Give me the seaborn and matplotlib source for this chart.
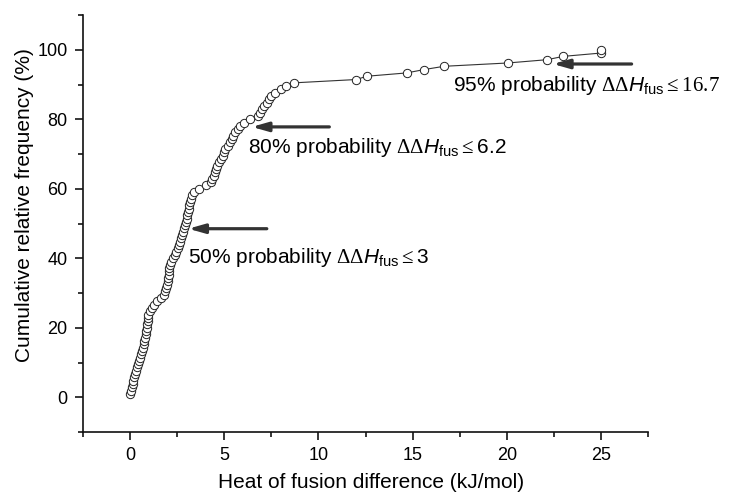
import numpy as np
import pandas as pd
import matplotlib
matplotlib.use('Agg')
import matplotlib.pyplot as plt
from matplotlib.ticker import MultipleLocator
import seaborn as sns

# heat of fusion differences (kJ/mol), sorted
dh_values = [
    0.00, 0.05, 0.09, 0.13, 0.17, 0.21, 0.25, 0.31, 0.37, 0.44,
    0.50, 0.55, 0.59, 0.64, 0.68, 0.72, 0.76, 0.79, 0.83, 0.86,
    0.88, 0.91, 0.93, 0.95, 0.97, 1.06, 1.14, 1.27, 1.41, 1.64,
    1.80, 1.86, 1.92, 1.96, 1.99, 2.01, 2.04, 2.06, 2.08, 2.11,
    2.16, 2.27, 2.38, 2.45, 2.52, 2.59, 2.64, 2.70, 2.76, 2.82,
    2.88, 2.93, 2.97, 3.00, 3.04, 3.07, 3.11, 3.15, 3.19, 3.23,
    3.30, 3.40, 3.65, 4.05, 4.30, 4.36, 4.43, 4.49, 4.55, 4.61,
    4.71, 4.82, 4.91, 4.98, 5.04, 5.18, 5.31, 5.40, 5.48, 5.57,
    5.71, 5.85, 6.05, 6.35, 6.80, 6.90, 6.99, 7.12, 7.26, 7.36,
    7.46, 7.67, 8.00, 8.30, 8.70, 12.00, 12.58, 14.69, 15.60, 16.67,
    20.05, 22.15, 23.00, 25.00, 25.00,
]

# annotation labels, arrow tips/tails (data units)
labels = [
    r'50% probability $\Delta\Delta \mathit{H}_{\mathsf{fus}} \leq \mathsf{3}$',
    r'80% probability $\Delta\Delta \mathit{H}_{\mathsf{fus}} \leq \mathsf{6.2}$',
    r'95% probability $\Delta\Delta \mathit{H}_{\mathsf{fus}} \leq 16.7$',
]
arrow_tip_x = [3.09, 6.46, 22.45]
arrow_tail_x = [7.26, 10.58, 26.63]
arrow_y = [48.5, 77.8, 95.9]
label_x = [3.09, 6.28, 17.14]
label_y = [38.7, 70.2, 88.2]

df = pd.DataFrame({'dh': dh_values})
df['cum'] = df['dh'].rank(method='first') / len(df) * 100

sns.set_style('ticks')
plt.rcParams['font.family'] = ['Liberation Sans', 'DejaVu Sans']
plt.rcParams['mathtext.fontset'] = 'custom'
plt.rcParams['mathtext.rm'] = 'Liberation Serif'
plt.rcParams['mathtext.sf'] = 'Liberation Sans'
plt.rcParams['mathtext.it'] = 'Liberation Sans:italic'
for key in ['text.color', 'axes.labelcolor', 'xtick.color', 'ytick.color']:
    plt.rcParams[key] = 'black'

fig = plt.figure(figsize=(7.34, 4.95), dpi=100)
ax = fig.add_axes([83 / 734, 63 / 495, 565 / 734, 417 / 495])

sns.lineplot(data=df, x='dh', y='cum', estimator=None, sort=False, ax=ax,
             color='#333333', linewidth=0.8, marker='o', markersize=6,
             markerfacecolor='white', markeredgecolor='#222222',
             markeredgewidth=0.7)

for lab, tx, hx, ay, lx, ly in zip(labels, arrow_tip_x, arrow_tail_x, arrow_y, label_x, label_y):
    ax.annotate('', xy=(tx, ay), xytext=(hx, ay),
                arrowprops=dict(arrowstyle='-|>,head_length=0.6,head_width=0.17',
                                lw=2.3, color='#333333', mutation_scale=16,
                                shrinkA=0, shrinkB=0))
    ax.text(lx, ly, lab, fontsize=15, ha='left', va='baseline')

ax.set_xlim(-2.5, 27.5)
ax.set_ylim(-10, 110)
ax.xaxis.set_major_locator(MultipleLocator(5))
ax.xaxis.set_minor_locator(MultipleLocator(2.5))
ax.yaxis.set_major_locator(MultipleLocator(20))
ax.yaxis.set_minor_locator(MultipleLocator(10))
ax.tick_params(which='major', direction='out', length=6, width=1.1, labelsize=13, pad=5)
ax.tick_params(which='minor', direction='out', length=3.5, width=1.1)
sns.despine(ax=ax)
for s in ['left', 'bottom']:
    ax.spines[s].set_linewidth(1.2)
    ax.spines[s].set_color('#111111')

ax.set_xlabel('Heat of fusion difference (kJ/mol)', fontsize=15)
ax.set_ylabel('Cumulative relative frequency (%)', fontsize=15)
ax.xaxis.set_label_coords(0.51, -0.098)
ax.yaxis.set_label_coords(-0.086, 0.544)

fig.savefig('out.png', dpi=100)
